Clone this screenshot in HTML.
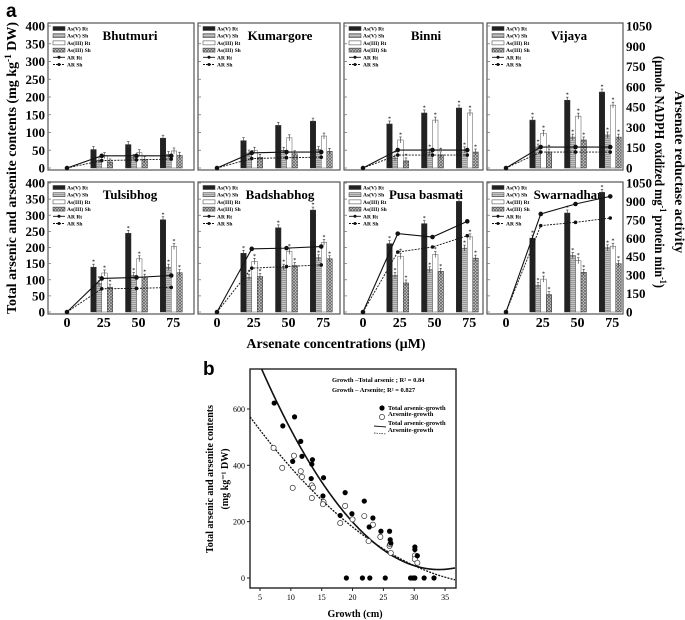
<!DOCTYPE html>
<html><head><meta charset="utf-8"><style>
html,body{margin:0;padding:0;background:#fff}
svg{display:block;font-family:"Liberation Serif",serif}
</style></head><body>
<svg id="fig" width="685" height="620" viewBox="0 0 685 620">
<defs>
<pattern id="pGray" width="2" height="2" patternUnits="userSpaceOnUse"><rect width="2" height="2" fill="#c4c4c4"/><rect width="2" height="1" fill="#999"/></pattern>
<pattern id="pHatch" width="3" height="3" patternUnits="userSpaceOnUse"><rect width="3" height="3" fill="#ddd"/><path d="M0,3L3,0M0,0L3,3" stroke="#666" stroke-width="0.8"/></pattern>
</defs>
<text x="6" y="17" font-family="Liberation Sans,sans-serif" font-weight="bold" font-size="19">a</text>
<g id="panels"></g>
<text transform="translate(16,168) rotate(-90)" text-anchor="middle" font-weight="bold" font-size="13.5" textLength="292" lengthAdjust="spacingAndGlyphs">Total arsenic and arsenite contents (mg kg<tspan dy="-5" font-size="9">-1</tspan><tspan dy="5"> DW)</tspan></text>
<text transform="translate(675,172) rotate(90)" text-anchor="middle" font-weight="bold" font-size="14">Arsenate reductase activity</text>
<text transform="translate(655,172) rotate(90)" text-anchor="middle" font-weight="bold" font-size="13.5" textLength="232" lengthAdjust="spacingAndGlyphs">(µmole NADPH oxidized mg<tspan dy="-5" font-size="9">-1</tspan><tspan dy="5"> protein min</tspan><tspan dy="-5" font-size="9">-1</tspan><tspan dy="5">)</tspan></text>
<text x="336" y="348" text-anchor="middle" font-weight="bold" font-size="14">Arsenate concentrations (µM)</text>
<text x="203" y="375" font-family="Liberation Sans,sans-serif" font-weight="bold" font-size="19">b</text>
<g id="scatter"></g>
</svg>
<script>
// ===== Panel a data =====
const varieties = ["Bhutmuri","Kumargore","Binni","Vijaya","Tulsibhog","Badshabhog","Pusa basmati","Swarnadhan"];
const concentrations = [0,25,50,75];
const asVRt   = [[52,66,84],[77,120,132],[124,155,169],[135,191,214],[139,244,286],[182,261,316],[212,274,343],[229,307,371]];
const asVSh   = [[22,30,38],[42,50,52],[28,45,51],[59,87,93],[88,113,139],[108,139,168],[113,131,198],[82,175,199]];
const asIIIRt = [[35,43,48],[50,85,90],[79,135,155],[98,146,177],[121,165,203],[157,188,216],[173,178,233],[102,159,204]];
const asIIISh = [[17,24,36],[30,40,47],[20,37,45],[45,79,87],[77,108,122],[110,144,165],[90,126,167],[54,123,150]];
const arRt = [[0,90,90,90],[0,112,118,118],[0,133,133,133],[0,155,155,155],[0,273,281,297],[0,514,520,533],[0,638,610,738],[0,798,879,941]];
const arSh = [[0,55,60,66],[0,70,76,80],[0,96,96,96],[0,118,118,118],[0,189,192,200],[0,357,370,383],[0,488,529,621],[0,703,730,765]];
const leftTicks = [0,50,100,150,200,250,300,350,400];
const rightTicks = [0,150,300,450,600,750,900,1050];
const legendLabels = ["As(V) Rt","As(V) Sh","As(III) Rt","As(III) Sh","AR Rt","AR Sh"];

// ===== Panel b data =====
const totalG = [7.3,8.7,10.6,11.6,11.8,10.3,13.5,13.4,13.3,15.3,15.2,18.8,18,19.9,21.9,23.3,22.7,24.6,26,26.1,26.2,30.1,30.1,30.5,19,21.6,22.8,25.3,29.4,29.8,30.1,31.6,33.2];
const totalV = [621,540,572,485,432,414,420,404,353,356,291,303,222,228,273,213,181,166,166,136,124,110,101,79,0,0,0,0,0,0,0,0,0];
const arsG = [7.2,8.6,10.5,10.3,11.6,11.8,13.4,13.6,13.4,15.3,15.2,18.8,18,20,21.9,23.3,22.6,24.5,26,26.1,26.2,30.1,30.1,30.5];
const arsV = [462,391,434,320,379,359,329,321,284,270,262,256,195,208,220,189,131,146,114,120,89,80,67,54];
const fitTotal = [0.862,34,30];     // a, vertex g, vertex value
const fitArs = [0.369,43.6,-24.5];
const bXTicks = [5,10,15,20,25,30,35];
const bYTicks = [0,200,400,600];

const NS="http://www.w3.org/2000/svg";
function mk(tag,attrs,parent,text){const e=document.createElementNS(NS,tag);for(const k in attrs)e.setAttribute(k,attrs[k]);if(text!==undefined)e.textContent=text;parent.appendChild(e);return e;}

const panelsG=document.getElementById('panels');
const lefts=[48,198,344,487], rights=[194,340,483,623];
const rows=[{top:23,base:168,max:26},{top:182,base:312,max:183}];
const fills=["#222","url(#pGray)","#fff","url(#pHatch)"];
const barSets=[asVRt,asVSh,asIIIRt,asIIISh];

varieties.forEach((name,vi)=>{
  const col=vi%4,row=rows[Math.floor(vi/4)];
  const L=lefts[col],R=rights[col];
  const g=mk('g',{},panelsG);
  
  
  const frame=mk('rect',{x:L,y:row.top,width:R-L,height:row.base-row.top+2,fill:'none',stroke:'#555','stroke-width':1.2},g);
  
  
  const yL=v=>row.base-v*(row.base-row.max)/400;
  const yR=v=>row.base-v*(row.base-row.max)/1050;
  const xC=c=>L+19+c*1.39;
  leftTicks.forEach(t=>{mk('line',{x1:L,x2:L+3,y1:yL(t),y2:yL(t),stroke:'#777','stroke-width':0.8},g);});
  const tt=mk('text',{x:L+82,y:row.top+17,'text-anchor':'middle','font-weight':'bold','font-size':13},g,name);
  
  
  legendLabels.forEach((lb,i)=>{
    const ly=row.top+6+i*7.2;
    if(i<4){mk('rect',{x:L+5,y:ly-2.5,width:12,height:4,fill:fills[i],stroke:'#333','stroke-width':0.5},g);}
    else{mk('line',{x1:L+5,x2:L+17,y1:ly-0.5,y2:ly-0.5,stroke:'#111','stroke-width':0.9,'stroke-dasharray':i==5?'2,1':'none'},g);mk('circle',{cx:L+11,cy:ly-0.5,r:1.5,fill:'#111'},g);}
    const lt=mk('text',{x:L+19,y:ly+1.5,'font-size':5.5,'font-weight':'bold'},g,lb);
    
    
  });
  concentrations.slice(1).forEach((c,ci)=>{
    barSets.forEach((set,bi)=>{
      const v=set[vi][ci];const bx=xC(c)-11+bi*5.5;const by=yL(v);
      const b=mk('rect',{x:bx,y:by,width:5.5,height:row.base-by,fill:fills[bi],stroke:bi==2?'#555':'#333','stroke-width':0.5},g);
      
      
      mk('line',{x1:bx+2.75,x2:bx+2.75,y1:by-3,y2:by+3,stroke:'#333','stroke-width':0.6},g);
      mk('line',{x1:bx+1.5,x2:bx+4,y1:by-3,y2:by-3,stroke:'#333','stroke-width':0.6},g);
      if(vi>=2) mk('text',{x:bx+2.75,y:by-3.5,'text-anchor':'middle','font-size':6},g,'*');
    });
  });
  [[arRt,'none',1.1],[arSh,'2,1.2',0.9]].forEach(([arr,dash,w],li)=>{
    const pts=concentrations.map((c,ci)=>xC(c)+','+yR(arr[vi][ci])).join(' ');
    const pl=mk('polyline',{points:pts,fill:'none',stroke:'#111','stroke-width':w,'stroke-dasharray':dash},g);
    
    
    concentrations.forEach((c,ci)=>{
      const p=mk('circle',{cx:xC(c),cy:yR(arr[vi][ci]),r:li==0?2.3:1.8,fill:'#111'},g);
      
      
    });
  });
  if(col===0){leftTicks.forEach(t=>{const e=mk('text',{x:45,y:yL(t)+4.5,'text-anchor':'end','font-weight':'bold','font-size':13},g,t);});}
  if(col===3){rightTicks.forEach(t=>{const e=mk('text',{x:626,y:yR(t)+4.5,'font-weight':'bold','font-size':13},g,t);});}
  if(row===rows[1]){concentrations.forEach(c=>{const e=mk('text',{x:xC(c)+(c?2:0),y:327,'text-anchor':'middle','font-weight':'bold','font-size':14},g,c);});}
});

// ===== Panel b =====
const sg=document.getElementById('scatter');
const bx=gv=>260+(gv-5)*6.17, by=v=>578-v*0.2817;
const bf=mk('rect',{x:250,y:369,width:206,height:219,fill:'none',stroke:'#222','stroke-width':1.4},sg);


bXTicks.forEach(t=>{mk('line',{x1:bx(t),x2:bx(t),y1:588,y2:591,stroke:'#222'},sg);const e=mk('text',{x:bx(t),y:600,'text-anchor':'middle','font-size':8},sg,t);});
bYTicks.forEach(t=>{mk('line',{x1:247,x2:250,y1:by(t),y2:by(t),stroke:'#222'},sg);const e=mk('text',{x:245,y:by(t)+3,'text-anchor':'end','font-size':8},sg,t);});
const clip=mk('clipPath',{id:'bclip'},sg);mk('rect',{x:250,y:369,width:206,height:219},clip);
[[fitTotal,'none',1.6,'fit-total-arsenic'],[fitArs,'2,1.2',1.3,'fit-arsenite']].forEach(([f,d,w,n])=>{
  let pts=[];for(let gv=3.4;gv<=36.6;gv+=0.2){pts.push(bx(gv)+','+by(f[0]*(gv-f[1])**2+f[2]));}
  const pl=mk('polyline',{points:pts.join(' '),fill:'none',stroke:'#111','stroke-width':w,'stroke-dasharray':d,'clip-path':'url(#bclip)'},sg);
  
  
});
arsG.forEach((gv,i)=>{const c=mk('circle',{cx:bx(gv),cy:by(arsV[i]),r:2.6,fill:'#fff',stroke:'#333','stroke-width':0.7},sg);});
totalG.forEach((gv,i)=>{const c=mk('circle',{cx:bx(gv),cy:by(totalV[i]),r:2.6,fill:'#000'},sg);});
const ann=[["Growth –Total arsenic ; R² = 0.84",332,382],["Growth – Arsenite; R² = 0.827",332,392]];
ann.forEach(a=>{const e=mk('text',{x:a[1],y:a[2],'font-size':6.5,'font-weight':'bold'},sg,a[0]);});
mk('circle',{cx:382,cy:408,r:2.6,fill:'#000'},sg);
mk('circle',{cx:382,cy:417,r:2.6,fill:'#fff',stroke:'#333','stroke-width':0.7},sg);
mk('line',{x1:374,x2:386,y1:426,y2:427,stroke:'#111','stroke-width':0.9},sg);
mk('line',{x1:374,x2:386,y1:433,y2:434,stroke:'#111','stroke-width':0.7,'stroke-dasharray':'1.5,1'},sg);
[["Total arsenic-growth",388,410],["Arsenite-growth",388,416],["Total arsenic-growth",388,425],["Arsenite-growth",388,432]].forEach(a=>{const e=mk('text',{x:a[1],y:a[2],'font-size':6.5,'font-weight':'bold'},sg,a[0]);});
const t1=mk('text',{transform:'translate(213,479) rotate(-90)','text-anchor':'middle','font-size':10,'font-weight':'bold'},sg,'Total arsenic and arsenite contents');


const t2=mk('text',{transform:'translate(228,479) rotate(-90)','text-anchor':'middle','font-size':10,'font-weight':'bold'},sg,'(mg kg⁻¹ DW)');


const t3=mk('text',{x:355,y:617,'text-anchor':'middle','font-size':10,'font-weight':'bold'},sg,'Growth (cm)');


</script>
</body></html>
